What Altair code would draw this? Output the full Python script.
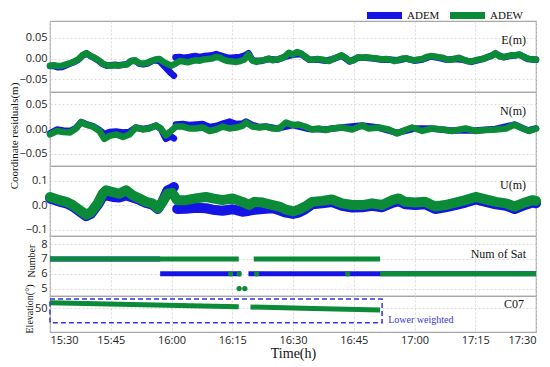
import json
import altair as alt
import pandas as pd

SERIES = ["ADEM", "ADEW"]
COLORS = ["#1414e6", "#0b8a37"]
TIME_TICKS = [0, 15, 30, 45, 60, 75, 90, 105, 120]
TIME_LABELS = ["15:30", "15:45", "16:00", "16:15", "16:30", "16:45", "17:00", "17:15", "17:30"]
ADEM_BREAK = 30.8  # minute at which ADEM residuals jump

# ---------------- E (m) ----------------
E_ADEW_T = list(range(0, 121))
E_ADEW = [-0.017, -0.016, -0.018, -0.017, -0.014, -0.011, -0.007, -0.002, 0.008, 0.013,
          0.006, 0.002, -0.004, -0.012, -0.016, -0.017, -0.016, -0.017, -0.015, -0.014,
          -0.006, -0.004, -0.011, -0.012, -0.010, -0.006, -0.002, -0.001, -0.008, -0.013,
          -0.017, -0.012, -0.006, -0.007, -0.009, -0.006, -0.004, -0.005, -0.002, -0.001,
          0.000, 0.004, 0.002, -0.003, -0.006, -0.007, -0.008, -0.006, -0.002, 0.010,
          -0.005, -0.008, -0.005, -0.003, 0.000, -0.004, -0.002, 0.000, 0.005, 0.014,
          0.010, 0.016, 0.012, 0.005, -0.002, -0.003, -0.001, -0.002, -0.004, -0.006,
          0.000, 0.004, 0.008, 0.002, -0.006, -0.004, 0.003, 0.002, 0.003, 0.002,
          0.001, 0.000, -0.002, -0.001, -0.002, -0.006, -0.003, 0.000, 0.001, -0.003,
          -0.004, -0.002, -0.001, 0.004, 0.006, 0.005, 0.003, 0.002, -0.002, -0.003,
          0.000, 0.002, -0.002, -0.006, -0.007, -0.004, -0.002, -0.001, 0.004, 0.006,
          0.013, 0.005, 0.004, 0.006, 0.008, 0.008, 0.010, 0.004, 0.000, -0.002, -0.002]
E_ADEM_T = list(range(0, 31)) + [30.6] + list(range(31, 51)) + list(range(52, 121, 2))
E_ADEM = [-0.018, -0.018, -0.021, -0.020, -0.016, -0.012, -0.008, -0.003, 0.007, 0.012,
          0.006, 0.001, -0.005, -0.013, -0.017, -0.016, -0.015, -0.016, -0.015, -0.013,
          -0.006, -0.005, -0.012, -0.014, -0.012, -0.007, -0.004, -0.006, -0.016, -0.026,
          -0.036, -0.041,
          0.003, 0.004, 0.002, 0.003, 0.005, 0.006, 0.004, 0.006, 0.007, 0.008,
          0.011, 0.008, 0.005, 0.002, 0.002, 0.003, 0.004, 0.007, 0.013, -0.004,
          -0.006, -0.001, -0.003, 0.004, 0.009, 0.011, -0.003, -0.002, -0.005, -0.001,
          0.007, -0.007, 0.002, 0.002, 0.000, -0.003, -0.003, -0.004, 0.000, -0.005,
          -0.002, 0.005, 0.002, -0.003, -0.001, -0.003, -0.008, -0.003, 0.003, 0.012,
          0.003, 0.007, 0.009, -0.001, -0.003]

# ---------------- N (m) ----------------
N_ADEW_T = [0, 1.7, 3.3, 5, 6.4, 7.7, 8.9, 10.6, 12.2, 13.4, 14.7, 16.3, 18, 19.6, 21.2,
            22.9, 24.5, 26.2, 27.4, 28.6, 29.9, 31.1, 32.8, 34.4, 36, 37.7, 39.4, 41, 42.7,
            44.3, 46, 47.6, 48.4, 50, 51.7, 53.3, 55, 56.6, 58.3, 60, 61.4, 63, 64.7, 66.3,
            68, 69.6, 72.1, 74.6, 77.1, 78.7, 81.2, 83.6, 85.7, 87.7, 89.4, 91.9, 94.3,
            96.8, 99.3, 102.6, 105.1, 107.6, 110.1, 112.6, 114.7, 116.7, 118.4, 120]
N_ADEW = [-0.011, -0.004, -0.006, -0.007, 0.001, 0.014, 0.009, 0.005, -0.004, -0.020,
          -0.014, -0.011, -0.016, -0.011, 0.003, -0.001, 0.001, 0.007, 0.001, -0.013,
          -0.004, 0.005, 0.005, 0.001, 0.001, 0.003, -0.004, -0.001, 0.005, 0.001,
          0.003, 0.007, 0.013, 0.005, 0.003, 0.005, 0.001, 0.001, 0.013, 0.008,
          0.009, 0.005, -0.001, 0.001, -0.002, 0.001, 0.003, -0.001, 0.007, 0.001,
          0.003, -0.001, -0.009, -0.002, 0.003, -0.004, 0.001, -0.001, -0.004, 0.001,
          -0.004, -0.002, -0.001, 0.001, 0.009, 0.001, -0.004, 0.001]
N_ADEM_T = [0, 1.7, 3.3, 5, 6.4, 7.7, 8.9, 10.6, 12.2, 13.4, 14.7, 16.3, 18, 19.6, 21.2,
            22.9, 24.5, 26.2, 27.4, 28.6, 29.9, 30.6, 31.1, 32.8, 34.4, 36, 37.7, 39.4, 41,
            42.7, 44.3, 46, 47.6, 48.4, 50, 51.7, 53.3, 56, 60, 64, 68, 72, 77, 81, 85.7,
            90, 94, 99, 105, 110, 114.7, 118, 120]
N_ADEM = [-0.009, -0.001, -0.003, -0.004, 0.002, 0.014, 0.010, 0.006, -0.002, -0.010,
          -0.006, -0.005, -0.007, -0.006, 0.003, 0.000, 0.002, 0.007, 0.000, -0.020,
          -0.015, -0.019, 0.009, 0.010, 0.008, 0.009, 0.010, 0.004, 0.006, 0.011,
          0.015, 0.010, 0.011, 0.015, 0.008, 0.004, 0.005, 0.001, 0.008, 0.000,
          -0.001, 0.003, 0.007, 0.003, -0.008, 0.001, 0.001, -0.003, -0.003, 0.000,
          0.009, -0.003, 0.001]

# ---------------- U (m) ----------------
U_T = [0, 2.3, 4, 5.6, 7.2, 8.9, 10.1, 11.8, 13, 13.8, 15.5, 17.1, 18.8, 20.4, 22.1, 23.7,
       25.3, 26.6, 27.8, 29, 30.2, 31.4, 33.5, 36, 38.5, 40.2, 42.6, 45.1, 47.5, 49.2, 50.5,
       52.5, 55, 56.6, 58.3, 60, 61.4, 63, 64.7, 67.2, 69.6, 72.1, 74.6, 77.1, 79.5, 82,
       84.5, 86.1, 87.7, 90.2, 92.6, 95.1, 97.6, 100.1, 102.6, 105.1, 107.6, 110.1, 112.6,
       114.7, 116.7, 119.2, 120]
U_ADEW = [0.034, 0.021, 0.014, 0.001, -0.018, -0.038, -0.029, 0.008, 0.047, 0.061,
          0.054, 0.047, 0.061, 0.041, 0.028, 0.014, 0.008, -0.012, 0.014, 0.047,
          0.050, 0.021, 0.021, 0.028, 0.034, 0.028, 0.021, 0.028, 0.014, 0.001,
          0.014, 0.011, 0.001, -0.005, -0.018, -0.025, -0.018, -0.005, 0.014, 0.018,
          0.024, 0.008, 0.001, 0.001, 0.008, 0.001, 0.021, 0.028, 0.014, 0.011,
          0.014, -0.005, 0.001, 0.011, 0.021, 0.034, 0.024, 0.014, 0.008, -0.005,
          0.008, 0.021, 0.018]
U_ADEM_T = [0, 2.3, 4, 5.6, 7.2, 8.9, 10.1, 11.8, 13, 13.8, 15.5, 17.1, 18.8, 20.4, 22.1,
            23.7, 25.3, 26.6, 27.8, 29, 30.2, 30.6, 31.4, 33.5, 36, 38.5, 40.2, 42.6, 45.1,
            47.5, 49.2, 50.5, 52.5, 55, 56.6, 58.3, 60, 61.4, 63, 64.7, 67.2, 69.6, 72.1,
            74.6, 77.1, 79.5, 82, 84.5, 86.1, 87.7, 90.2, 92.6, 95.1, 97.6, 100.1, 102.6,
            105.1, 107.6, 110.1, 112.6, 114.7, 116.7, 119.2, 120]
U_ADEM = [0.028, 0.015, 0.008, -0.005, -0.024, -0.044, -0.035, 0.002, 0.035, 0.040,
          0.034, 0.032, 0.040, 0.032, 0.022, 0.010, 0.003, -0.015, 0.016, 0.060,
          0.070, 0.074, -0.015, -0.014, -0.010, -0.012, -0.018, -0.022, -0.016, -0.026,
          -0.022, -0.018, -0.015, -0.012, -0.020, -0.030, -0.035, -0.030, -0.016, 0.004,
          0.008, 0.013, -0.002, -0.009, -0.008, -0.002, -0.008, 0.010, 0.017, 0.004,
          0.001, 0.004, -0.015, -0.008, 0.001, 0.011, 0.024, 0.014, 0.004, -0.002,
          -0.015, -0.002, 0.011, 0.008]

# ---------------- Number of satellites ----------------
NUM_SEG_SERIES = ["ADEM", "ADEM", "ADEM", "ADEW", "ADEW", "ADEW"]
NUM_SEG_START = [0, 27.2, 49.0, 0, 50.3, 81.5]
NUM_SEG_END = [27.2, 47.2, 120, 46.6, 81.5, 120]
NUM_SEG_VALUE = [7, 6, 6, 7, 7, 6]
NUM_DOT_T = [44.6, 46.7, 46.7, 48.1, 51.0, 73.5]
NUM_DOT_V = [6, 6, 5, 5, 6, 6]

# ---------------- C07 elevation ----------------
ELEV_T = [0, 23, 46.6, 49.5, 65, 81.5]
ELEV_V = [54.4, 52.8, 51.1, 50.8, 49.6, 48.3]
ELEV_BREAK = 48
BOX_T = [0, 82]
BOX_E = [37.75, 57.5]
NOTE_T, NOTE_E, NOTE = 83, 40, "Lower weighted"

W = 486
SERIF = "Liberation Serif"
color = alt.Color("series:N", scale=alt.Scale(domain=SERIES, range=COLORS), legend=None)
label_expr = json.dumps(TIME_LABELS) + "[round(datum.value/15)]"


def xenc(field="t", bottom=False):
    if bottom:
        ax = alt.Axis(values=TIME_TICKS, labelExpr=label_expr, title="Time(h)", grid=True,
                      labelPadding=2, titleFont=SERIF, titleFontSize=14,
                      titleFontWeight="normal", titlePadding=1, titleColor="#111")
    else:
        ax = alt.Axis(values=TIME_TICKS, labels=False, title=None, grid=True)
    return alt.X(f"{field}:Q", scale=alt.Scale(domain=[0, 120], nice=False, zero=False), axis=ax)


def yenc(field, dom, ticks, fmt=None):
    kw = dict(values=ticks, title=None, grid=True, labelPadding=3)
    if fmt:
        kw["format"] = fmt
    return alt.Y(f"{field}:Q", scale=alt.Scale(domain=dom, nice=False, zero=False),
                 axis=alt.Axis(**kw))


def text_layer(txt, x, y, size=12, angle=0, align="right", col="#111"):
    return alt.Chart(pd.DataFrame({"txt": [txt]})).mark_text(
        align=align, baseline="middle", font=SERIF, fontSize=size, angle=angle, color=col
    ).encode(x=alt.value(x), y=alt.value(y), text="txt:N")


def legend_layers():
    # legend drawn above the first panel: swatch + label per series
    out = []
    x0, step, length, ly = 317, 83, 35, -5.5
    for i, (s, c) in enumerate(zip(SERIES, COLORS)):
        xs = x0 + step * i
        out.append(alt.Chart(pd.DataFrame({"s": [s]})).mark_rule(
            color=c, strokeWidth=7, strokeCap="butt").encode(
            x=alt.value(xs), x2=alt.value(xs + length), y=alt.value(ly)))
        out.append(text_layer(s, xs + length + 5, ly, size=11, align="left"))
    return out


def series_df(t_adem, v_adem, t_adew, v_adew):
    a = pd.DataFrame({"t": t_adem, "v": v_adem, "series": "ADEM"})
    a["seg"] = (a["t"] > ADEM_BREAK).astype(int)
    b = pd.DataFrame({"t": t_adew, "v": v_adew, "series": "ADEW"})
    b["seg"] = 0
    return pd.concat([a, b], ignore_index=True)


def line_panel(df, dom, ticks, fmt, h, label, sw, extra=()):
    y = yenc("v", dom, ticks, fmt)
    layers = []
    for s in SERIES:
        layers.append(alt.Chart(df).transform_filter(alt.datum.series == s)
                      .mark_line(strokeWidth=sw, strokeJoin="round", strokeCap="round")
                      .encode(x=xenc(), y=y, color=color, detail="seg:N"))
    layers.append(text_layer(label, W - 10, 19))
    layers.extend(extra)
    return alt.layer(*layers).properties(width=W, height=h)


pE = line_panel(series_df(E_ADEM_T, E_ADEM, E_ADEW_T, E_ADEW), [-0.08, 0.09],
                [-0.05, 0, 0.05], ".2f", 71, "E(m)", 6.5, extra=legend_layers())
pN = line_panel(series_df(N_ADEM_T, N_ADEM, N_ADEW_T, N_ADEW), [-0.075, 0.075],
                [-0.05, 0, 0.05], ".2f", 74, "N(m)", 6.5,
                extra=[text_layer("Coordinate residuals(m)", -35, 44, size=11, angle=270,
                                  align="center")])
pU = line_panel(series_df(U_ADEM_T, U_ADEM, U_T, U_ADEW), [-0.125, 0.16],
                [-0.1, 0, 0.1], ".1f", 70, "U(m)", 10)

seg_df = pd.DataFrame({"series": NUM_SEG_SERIES, "t0": NUM_SEG_START, "t1": NUM_SEG_END,
                       "n": NUM_SEG_VALUE})
dot_df = pd.DataFrame({"series": "ADEW", "t": NUM_DOT_T, "n": NUM_DOT_V})
ynum = yenc("n", [4.5, 8.55], [5, 6, 7, 8])
num_layers = []
for s in SERIES:
    num_layers.append(alt.Chart(seg_df).transform_filter(alt.datum.series == s)
                      .mark_rule(strokeWidth=5, strokeCap="butt")
                      .encode(x=xenc("t0"), x2="t1:Q", y=ynum, color=color))
num_layers.append(alt.Chart(dot_df).mark_circle(size=28, opacity=1)
                  .encode(x=xenc(), y=ynum, color=color))
num_layers.append(text_layer("Num of Sat", W - 10, 18))
num_layers.append(text_layer("Number", -18, 25, size=10, angle=270, align="center"))
pNum = alt.layer(*num_layers).properties(width=W, height=60)

elev_df = pd.DataFrame({"t": ELEV_T, "e": ELEV_V, "series": "ADEW"})
elev_df["seg"] = (elev_df["t"] > ELEV_BREAK).astype(int)
box_df = pd.DataFrame({"t0": [BOX_T[0]], "t1": [BOX_T[1]], "e0": [BOX_E[0]], "e1": [BOX_E[1]]})
note_df = pd.DataFrame({"t": [NOTE_T], "e": [NOTE_E], "txt": [NOTE]})
yel = yenc("e", [30, 60], [50])
pEl = alt.layer(
    alt.Chart(elev_df).mark_line(strokeWidth=5).encode(
        x=xenc(bottom=True), y=yel, color=color, detail="seg:N"),
    alt.Chart(box_df).mark_rect(fillOpacity=0, stroke="#3535dd", strokeWidth=1.5,
                                strokeDash=[5, 3]).encode(
        x=xenc("t0", bottom=True), x2="t1:Q", y=yenc("e0", [30, 60], [50]), y2="e1:Q"),
    alt.Chart(note_df).mark_text(align="left", baseline="middle", font=SERIF, fontSize=10,
                                 color="#3535dd", dx=2).encode(
        x=xenc(bottom=True), y=yel, text="txt:N"),
    text_layer("C07", W - 12, 8),
    text_layer("Elevation(°)", -20, 13, size=10, angle=270, align="center"),
).properties(width=W, height=36)

chart = alt.vconcat(pE, pN, pU, pNum, pEl, spacing=0, bounds="flush").resolve_scale(
    color="shared"
).properties(
    padding={"left": 0, "top": 0, "right": 0, "bottom": 0}
).configure_view(
    stroke="#a8a8a8", strokeWidth=1.2
).configure_axis(
    labelFont="Open Sans", labelFontSize=11, labelColor="#222", ticks=False, domain=False,
    gridColor="#d2d2d2", gridDash=[2, 2], gridWidth=0.8
)

chart.save("out.html", embed_options={"renderer": "svg", "actions": False})
